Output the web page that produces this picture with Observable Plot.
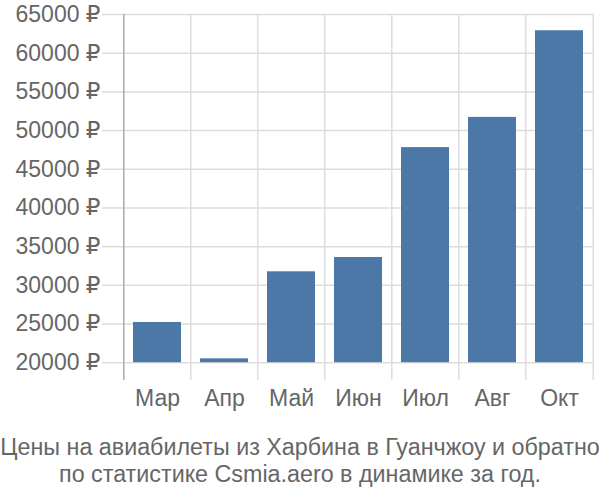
<!DOCTYPE html>
<html><head><meta charset="utf-8">
<script src="https://cdn.jsdelivr.net/npm/d3@7"></script>
<script src="https://cdn.jsdelivr.net/npm/@observablehq/plot@0.6"></script>
<style>
body{margin:0;background:#fff;font-family:"Liberation Sans","DejaVu Sans",sans-serif;}
#cap{width:600px;text-align:center;color:#666;font-size:23.3px;line-height:27px;padding-top:14px;white-space:nowrap;}
</style></head>
<body><div id="chart"></div><div id="cap">Цены на авиабилеты из Харбина в Гуанчжоу и обратно<br>по статистике Csmia.aero в динамике за год.</div>
<script>
const months = ["Мар","Апр","Май","Июн","Июл","Авг","Окт"];
const prices = [25200, 20500, 31750, 33600, 47800, 51700, 62900];
const yTicks = [20000,25000,30000,35000,40000,45000,50000,55000,60000,65000];
const baseValue = 20000;
const data = months.map((m,i)=>({month:m, price:prices[i]}));

const W=600,H=420,ML=122,MR=6,MT=14,MB=40;
const step=(W-ML-MR)/months.length;
const chart = Plot.plot({
  width:W, height:H, marginLeft:ML, marginRight:MR, marginTop:MT, marginBottom:MB,
  style:{fontFamily:'"Liberation Sans","DejaVu Sans",sans-serif', fontSize:"23px", color:"#666", background:"#fff", overflow:"visible"},
  x:{domain:months, paddingInner:0.29, paddingOuter:0.145, label:null},
  y:{domain:[17700,65000], label:null},
  marks:[
    Plot.ruleY(yTicks,{stroke:"#ddd", strokeWidth:1.5}),
    Plot.axisY(yTicks,{tickSize:20, stroke:"#ddd", strokeWidth:1.5, tickPadding:2, tickFormat:d=>d+" ₽", fill:"#666", fontSize:23, label:null, strokeOpacity:1}),
    Plot.ruleX(months.slice(1),{x:d=>d, dx:-step/2, stroke:"#ddd", strokeWidth:1.5}),
    Plot.ruleX([months[months.length-1]],{x:d=>d, dx:step/2, stroke:"#ddd", strokeWidth:1.5}),
    Plot.ruleX([months[0]],{x:d=>d, dx:-step/2, stroke:"#aaa", strokeWidth:1.5}),
    Plot.barY(data,{x:"month", y1:baseValue, y2:"price", fill:"#4c78a8"}),
    Plot.axisX({tickSize:0, tickPadding:9, fill:"#666", fontSize:23, label:null})
  ]
});
document.getElementById("chart").appendChild(chart);
</script></body></html>
